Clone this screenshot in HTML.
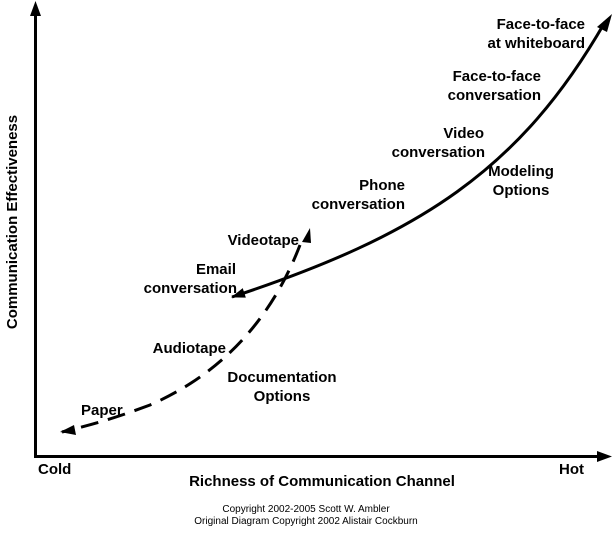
<!DOCTYPE html>
<html><head><meta charset="utf-8"><style>
html,body{margin:0;padding:0;background:#fff;}
svg text{font-family:"Liberation Sans",Arial,sans-serif;font-weight:bold;font-size:15px;fill:#000;}
</style></head><body>
<svg width="612" height="528" viewBox="0 0 612 528" xmlns="http://www.w3.org/2000/svg">
<defs>
<marker id="ah2" markerWidth="14" markerHeight="10" refX="13" refY="5" orient="auto" markerUnits="userSpaceOnUse">
<path d="M0,0 L14,5 L0,10 z" fill="#000"/></marker>
</defs>
<line x1="35.5" y1="456" x2="35.5" y2="14" stroke="#000" stroke-width="3"/>
<path d="M35.5,1 L30,16 L41,16 z" fill="#000"/>
<line x1="34" y1="456.5" x2="600" y2="456.5" stroke="#000" stroke-width="3"/>
<path d="M612,456.5 L597,451 L597,462 z" fill="#000"/>
<path d="M605,22 C520,170 420,235 232,297" fill="none" stroke="#000" stroke-width="3" marker-end="url(#ah2)"/>
<path d="M612,14 L597,27 L607,32 z" fill="#000"/>
<path d="M300,245 C275,310 230,370 150,405 C110,420 90,425 62,432" fill="none" stroke="#000" stroke-width="3" stroke-dasharray="18,10"/>
<path d="M60,432 L74,425 L76,435 z" fill="#000"/>
<path d="M310,228 L302,242 L311,243 z" fill="#000"/>
<text x="17" y="222" transform="rotate(-90 17 222)" text-anchor="middle">Communication Effectiveness</text>
<text x="38" y="474">Cold</text>
<text x="559" y="474">Hot</text>
<text x="322" y="486" text-anchor="middle">Richness of Communication Channel</text>
<text x="585" y="29" text-anchor="end">Face-to-face</text>
<text x="585" y="48" text-anchor="end">at whiteboard</text>
<text x="541" y="81" text-anchor="end">Face-to-face</text>
<text x="541" y="100" text-anchor="end">conversation</text>
<text x="484" y="138" text-anchor="end">Video</text>
<text x="485" y="157" text-anchor="end">conversation</text>
<text x="521" y="176" text-anchor="middle">Modeling</text>
<text x="521" y="195" text-anchor="middle">Options</text>
<text x="405" y="190" text-anchor="end">Phone</text>
<text x="405" y="209" text-anchor="end">conversation</text>
<text x="299" y="245" text-anchor="end">Videotape</text>
<text x="236" y="274" text-anchor="end">Email</text>
<text x="237" y="293" text-anchor="end">conversation</text>
<text x="226" y="353" text-anchor="end">Audiotape</text>
<text x="282" y="382" text-anchor="middle">Documentation</text>
<text x="282" y="401" text-anchor="middle">Options</text>
<text x="81" y="415">Paper</text>
<text x="306" y="512" text-anchor="middle" style="font-weight:normal;font-size:10px">Copyright 2002-2005 Scott W. Ambler</text>
<text x="306" y="524" text-anchor="middle" style="font-weight:normal;font-size:10px">Original Diagram Copyright 2002 Alistair Cockburn</text>
</svg>
</body></html>
